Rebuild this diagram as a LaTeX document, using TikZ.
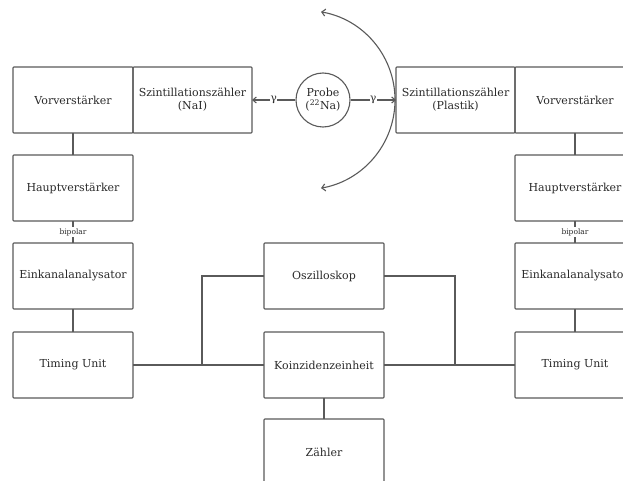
\documentclass[tikz,border=0pt]{standalone}
\usepackage{fontspec}
\setmainfont{DejaVu Serif}
\usetikzlibrary{arrows.meta}
\definecolor{lc}{HTML}{5A5A5A}
\definecolor{tc}{HTML}{2A2A2A}
\tikzset{
  box/.style={draw=lc, line width=1.1pt, rounded corners=0.8pt, minimum width=120pt, minimum height=66pt, inner sep=2pt, outer sep=0pt, text=tc, font=\fontsize{11}{13}\selectfont, align=center},
  conn/.style={draw=lc, line width=1.1pt},
  arr/.style={conn, -{Straight Barb[length=3.5pt,width=6pt]}},
  bip/.style={fill=white, inner sep=1pt, text=tc, font=\fontsize{7.5}{8.5}\selectfont},
  gam/.style={fill=white, inner sep=0.5pt, text=tc, font=\fontsize{10.5}{12}\selectfont},
}
\begin{document}
\begin{tikzpicture}[x=1pt,y=-1pt]
\useasboundingbox (0,0) rectangle (623,481);
\fill[white] (0,0) rectangle (623,481);
\clip (0,0) rectangle (623,481);
% top row
\node[box] (vl) at (73,100) {Vorverstärker};
\node[box, minimum width=119pt] (nai) at (192.5,100) {Szintillationszähler\\(NaI)};
\node[draw=lc, line width=1.1pt, circle, minimum size=54pt, inner sep=0pt, text=tc, font=\fontsize{11}{13}\selectfont, align=center] (probe) at (323,100) {Probe\\(\textsuperscript{22}Na)};
\node[box, minimum width=119pt] (pl) at (455.5,100) {Szintillationszähler\\(Plastik)};
\node[box] (vr) at (575,100) {Vorverstärker};
% columns
\node[box] (hl) at (73,188) {Hauptverstärker};
\node[box] (hr) at (575,188) {Hauptverstärker};
\node[box] (el) at (73,276) {Einkanalanalysator};
\node[box] (er) at (575,276) {Einkanalanalysator};
\node[box] (tl) at (73,365) {Timing Unit};
\node[box] (tr) at (575,365) {Timing Unit};
% centre
\node[box] (osz) at (324,276) {Oszilloskop};
\node[box] (koi) at (324,365) {Koinzidenzeinheit};
\node[box] (zah) at (324,452) {Zähler};
% connectors
\draw[conn] (vl) -- (hl);
\draw[conn] (vr) -- (hr);
\draw[conn] (hl) -- node[bip]{bipolar} (el);
\draw[conn] (hr) -- node[bip]{bipolar} (er);
\draw[conn] (el) -- (tl);
\draw[conn] (er) -- (tr);
\draw[conn] (tl) -- (koi);
\draw[conn] (koi) -- (tr);
\coordinate (jl) at (202,365);
\coordinate (jr) at (455,365);
\draw[conn] (jl) |- (osz);
\draw[conn] (jr) |- (osz);
\draw[conn] (koi) -- (zah);
\draw[arr] (probe) -- node[gam]{γ} (nai);
\draw[arr] (probe) -- node[gam]{γ} (pl);
% arc
\coordinate (ac) at (305.5,100);
\draw[conn, {Straight Barb[length=3.5pt,width=7pt]}-{Straight Barb[length=3.5pt,width=7pt]}] (ac) ++(-80:89.5) arc[start angle=-80, end angle=80, radius=89.5];
\end{tikzpicture}
\end{document}
